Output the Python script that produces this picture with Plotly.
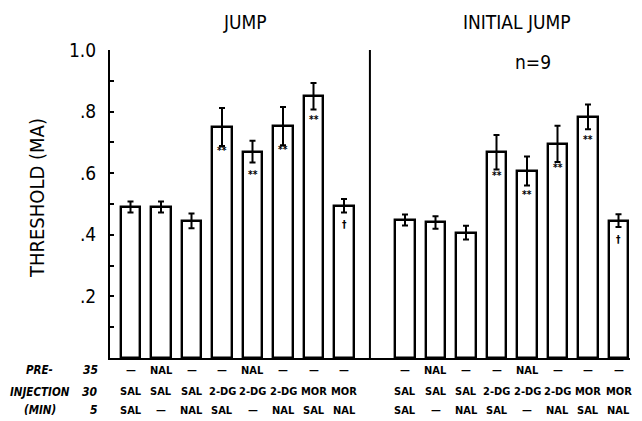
import plotly.graph_objects as go

# ---- data ----
panels = ["JUMP", "INITIAL JUMP"]
pre35 = ["—", "NAL", "—", "—", "NAL", "—", "—", "—"]
inj30 = ["SAL", "SAL", "SAL", "2-DG", "2-DG", "2-DG", "MOR", "MOR"]
min5 = ["SAL", "—", "NAL", "SAL", "—", "NAL", "SAL", "NAL"]
jump_mean = [0.490, 0.490, 0.445, 0.750, 0.670, 0.753, 0.850, 0.494]
jump_se = [0.018, 0.018, 0.024, 0.062, 0.035, 0.062, 0.043, 0.022]
initial_mean = [0.448, 0.440, 0.407, 0.668, 0.607, 0.695, 0.783, 0.446]
initial_se = [0.018, 0.020, 0.022, 0.056, 0.047, 0.059, 0.040, 0.021]
sig = ["", "", "", "**", "**", "**", "**", "†"]
row_names = ["PRE-", "INJECTION", "(MIN)"]
row_times = ["35", "30", "5"]
y_ticks = [0.1, 0.2, 0.3, 0.4, 0.5, 0.6, 0.7, 0.8, 0.9, 1.0]
y_ticktext = ["", ".2", "", ".4", "", ".6", "", ".8", "", "1.0"]
n_label = "n=9"

FONT = "DejaVu Sans Condensed, Liberation Sans Narrow, Arial Narrow, sans-serif"

xl = list(range(8))
xr = [i + 9 for i in range(8)]

fig = go.Figure()
for xs, m, se in [(xl, jump_mean, jump_se), (xr, initial_mean, initial_se)]:
    fig.add_trace(go.Bar(
        x=xs, y=m, width=0.64,
        marker=dict(color="white", line=dict(color="black", width=2.4)),
        error_y=dict(type="data", array=se, visible=True, color="black",
                     thickness=2, width=3),
        showlegend=False,
    ))

ROWS_Y = [-0.039, -0.110, -0.169]
ann = []
for xs, m in [(xl, jump_mean), (xr, initial_mean)]:
    for i, x in enumerate(xs):
        s = sig[i]
        if s:
            off = 0.075 if s == "**" else 0.06
            ann.append(dict(x=x, y=m[i] - off, xref="x", yref="y", text="<b>%s</b>" % s,
                            showarrow=False, xanchor="center",
                            font=dict(size=10, color="black", family=FONT)))
        for lab, yp in zip([pre35, inj30, min5], ROWS_Y):
            ann.append(dict(x=x, y=yp, xref="x", yref="paper", text="<b>%s</b>" % lab[i],
                            showarrow=False, xanchor="center", yanchor="middle",
                            font=dict(size=11, color="black", family=FONT)))

for lab, t, yp in zip(row_names, row_times, ROWS_Y):
    ann.append(dict(x=-0.135, y=yp, xref="paper", yref="paper",
                    text="<b><i>%s</i></b>" % lab, showarrow=False,
                    xanchor="center", yanchor="middle",
                    font=dict(size=11.5, color="black", family=FONT)))
    ann.append(dict(x=-0.019, y=yp, xref="paper", yref="paper",
                    text="<b><i>%s</i></b>" % t, showarrow=False, xanchor="right",
                    yanchor="middle", font=dict(size=12, color="black", family=FONT)))

ann.append(dict(x=0.26, y=1.091, xref="paper", yref="paper", text=panels[0],
                showarrow=False, xanchor="center", yanchor="middle",
                font=dict(size=19, color="black", family=FONT)))
ann.append(dict(x=0.783, y=1.091, xref="paper", yref="paper", text=panels[1],
                showarrow=False, xanchor="center", yanchor="middle",
                font=dict(size=19, color="black", family=FONT)))
ann.append(dict(x=0.813, y=0.961, xref="paper", yref="paper", text=n_label,
                showarrow=False, xanchor="center", yanchor="middle",
                font=dict(size=19, color="black", family=FONT)))
ann.append(dict(x=-0.14, y=0.52, xref="paper", yref="paper", text="THRESHOLD (MA)",
                textangle=-90, showarrow=False, xanchor="center", yanchor="middle",
                font=dict(size=20, color="black", family=FONT)))

fig.add_shape(type="line", x0=7.85, x1=7.85, y0=0, y1=1.0, xref="x", yref="y",
              line=dict(color="black", width=2))

# the page body has an 8px margin, so the figure is 8px smaller than the window
fig.update_layout(
    width=634, height=413,
    margin=dict(l=102, r=12, t=42, b=63),
    paper_bgcolor="white", plot_bgcolor="white",
    annotations=ann,
    bargap=0,
    xaxis=dict(range=[-0.672, 16.377], showticklabels=False, ticks="",
               showgrid=False, zeroline=False, showline=True,
               linecolor="black", linewidth=2),
    yaxis=dict(range=[0, 1.0], tickvals=y_ticks, ticktext=y_ticktext,
               ticks="inside", ticklen=4, tickwidth=1.5, tickcolor="black",
               ticklabelstandoff=8,
               showgrid=False, zeroline=False, showline=True,
               linecolor="black", linewidth=2,
               tickfont=dict(size=19, color="black", family=FONT)),
)

fig.write_html("out.html")
